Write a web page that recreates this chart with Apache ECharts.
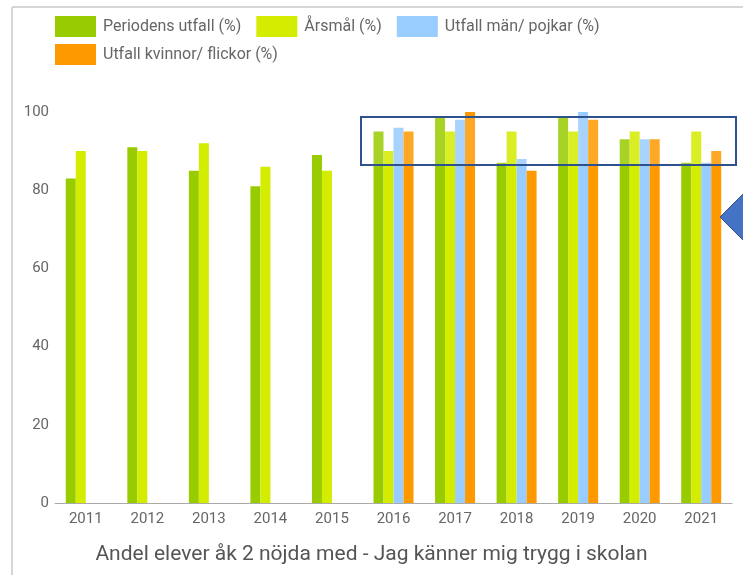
<!DOCTYPE html>
<html>
<head>
<meta charset="utf-8">
<script src="https://cdn.jsdelivr.net/npm/echarts@6/dist/echarts.min.js"></script>
<style>
  html, body { margin: 0; padding: 0; background: #fff; }
  #chart { width: 743px; height: 575px; }
</style>
</head>
<body>
<div id="chart"></div>
<script>
const years = ['2011', '2012', '2013', '2014', '2015', '2016', '2017', '2018', '2019', '2020', '2021'];
const periodensUtfall = [83, 91, 85, 81, 89, 95, 99, 87, 99, 93, 87];
const arsmal = [90, 90, 92, 86, 85, 90, 95, 95, 95, 95, 95];
const utfallMan = [null, null, null, null, null, 96, 98, 88, 100, 93, 87];
const utfallKvinnor = [null, null, null, null, null, 95, 100, 85, 98, 93, 90];
const yTicks = { min: 0, max: 100, interval: 20 };

const names = ['Periodens utfall (%)', 'Årsmål (%)', 'Utfall män/ pojkar (%)', 'Utfall kvinnor/ flickor (%)'];
const colors = ['#99cc00', '#d4ec00', '#99ccff', '#ff9900'];
const textColor = '#666';
const font = 'Roboto, Arial, sans-serif';

function bar(name, data, color) {
    return {
        name: name,
        type: 'bar',
        data: data,
        barWidth: 10,
        barGap: '0%',
        itemStyle: { color: color },
        silent: true
    };
}

const legendBase = {
    left: 55,
    orient: 'horizontal',
    icon: 'rect',
    itemWidth: 41,
    itemHeight: 21,
    itemGap: 15,
    padding: 0,
    selectedMode: false,
    textStyle: { fontFamily: font, fontSize: 16, color: textColor, padding: [0, 0, 0, 2] }
};

const chart = echarts.init(document.getElementById('chart'));
chart.setOption({
    animation: false,
    color: colors,
    textStyle: { fontFamily: font },
    title: {
        text: 'Andel elever åk 2 nöjda med - Jag känner mig trygg i skolan',
        left: 'center',
        top: 544,
        padding: 0,
        textStyle: { fontFamily: font, fontSize: 21, fontWeight: 'normal', color: '#555' }
    },
    legend: [
        Object.assign({}, legendBase, { top: 16, data: names.slice(0, 3) }),
        Object.assign({}, legendBase, { top: 44, data: names.slice(3) })
    ],
    grid: { left: 55, right: 11, top: 112, bottom: 72 },
    xAxis: {
        type: 'category',
        data: years,
        axisTick: { show: false },
        axisLine: { lineStyle: { color: '#aaa', width: 1 } },
        axisLabel: { fontFamily: font, fontSize: 15, color: textColor, margin: 9 }
    },
    yAxis: {
        type: 'value',
        min: yTicks.min,
        max: yTicks.max,
        interval: yTicks.interval,
        splitLine: { show: false },
        axisLine: { show: false },
        axisTick: { show: false },
        axisLabel: { fontFamily: font, fontSize: 15, color: textColor, margin: 6 }
    },
    series: [
        bar(names[0], periodensUtfall, colors[0]),
        bar(names[1], arsmal, colors[1]),
        bar(names[2], utfallMan, colors[2]),
        bar(names[3], utfallKvinnor, colors[3])
    ],
    graphic: [
        // ram runt diagrammet
        { type: 'line', shape: { x1: 12, y1: 7, x2: 743, y2: 7 }, style: { stroke: '#d6d6d6', lineWidth: 2 } },
        { type: 'line', shape: { x1: 12, y1: 7, x2: 12, y2: 575 }, style: { stroke: '#d6d6d6', lineWidth: 2 } },
        // markering
        {
            type: 'rect', z: 100,
            shape: { x: 361, y: 117, width: 375, height: 48 },
            style: { fill: 'rgba(255,255,255,0.15)', stroke: '#2f528f', lineWidth: 2 }
        },
        {
            type: 'polygon', z: 100,
            shape: { points: [[720, 217], [746, 191], [746, 243]] },
            style: { fill: '#4472c4', stroke: '#2f528f', lineWidth: 1 }
        }
    ]
});
</script>
</body>
</html>
